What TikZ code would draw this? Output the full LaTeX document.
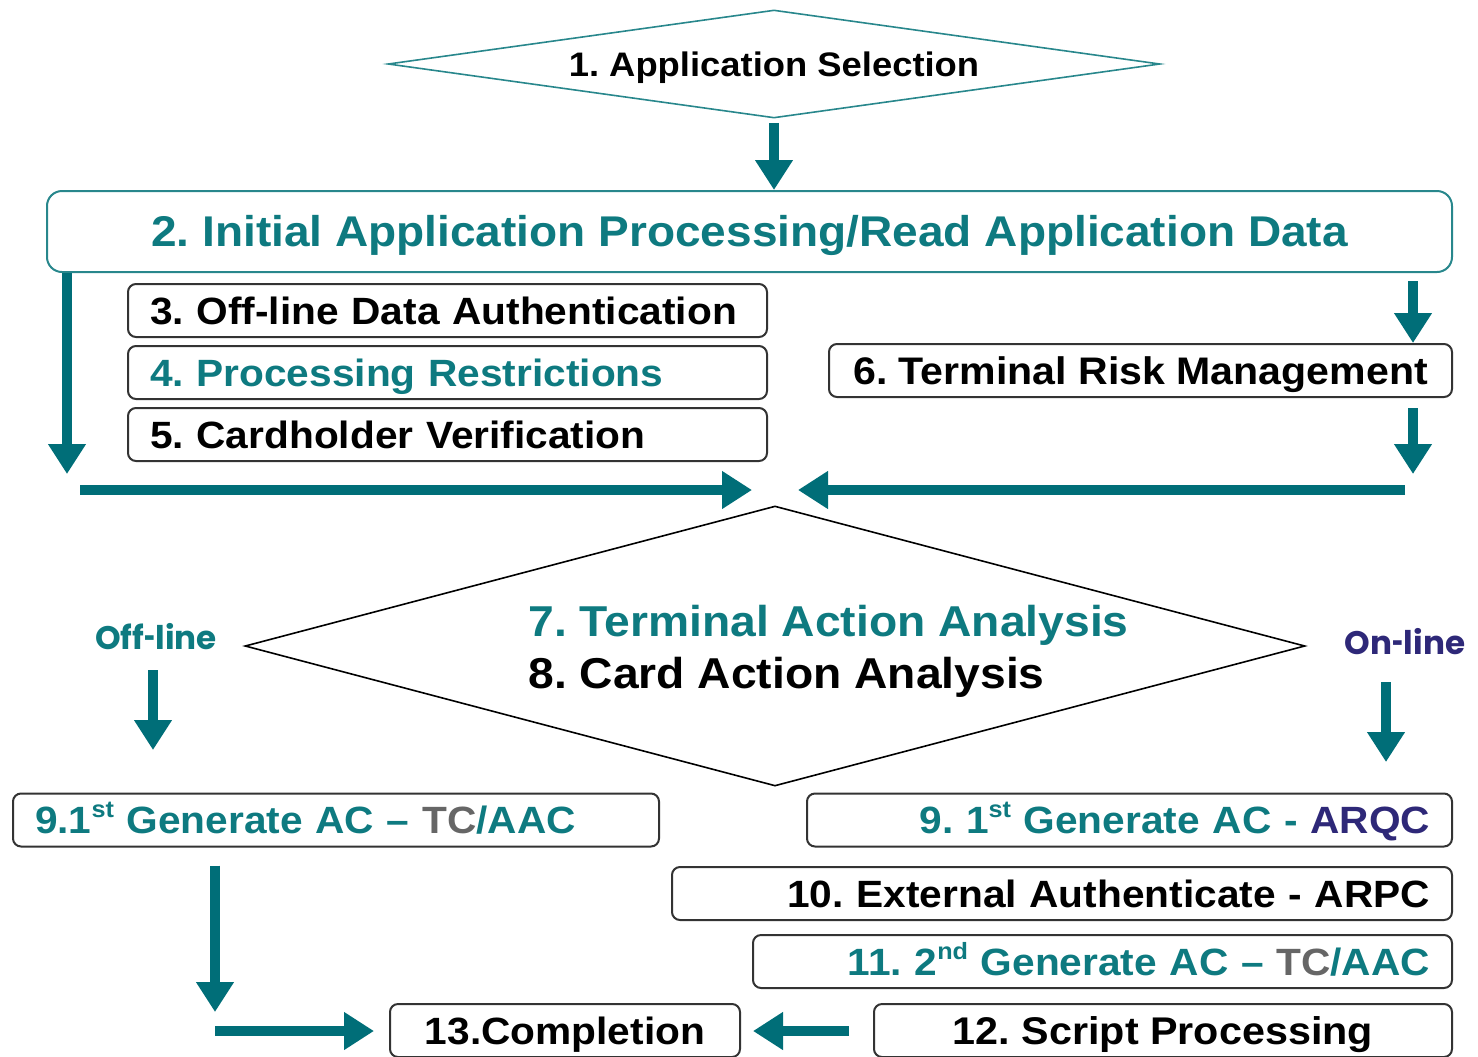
\documentclass[tikz,border=0pt]{standalone}
\usepackage{fontspec}
\setmainfont[FakeStretch=1.07]{Liberation Sans}
\newfontfamily\popfont{Poppins}
\usetikzlibrary{arrows.meta,shapes.geometric}
\definecolor{arrteal}{RGB}{0,110,120}
\definecolor{txteal}{RGB}{14,122,128}
\definecolor{navyblue}{RGB}{46,40,120}
\definecolor{tcgray}{RGB}{102,102,102}
\definecolor{bordteal}{RGB}{40,135,140}
\newcommand\supx[1]{\raisebox{0.42em}{\scalebox{0.62}{#1}}}
\newcommand\shorthyph{\scalebox{0.6}[1]{-}}
\frenchspacing
\begin{document}
\begin{tikzpicture}[x=0.5pt,y=-0.5pt,
  flow/.style={draw=arrteal, line width=5pt, -{Triangle[width=18pt,length=15pt]}},
  box/.style={draw=black!80, line width=1pt, rounded corners=4pt, minimum height=26.5pt,
    inner ysep=0pt, font=\bfseries\fontsize{19pt}{22pt}\selectfont, text height=13.6pt, text depth=0pt},
  lbox/.style={box, inner xsep=11pt, align=left},
  rbox/.style={box, inner xsep=11pt, align=right},
  cbox/.style={box, inner xsep=0pt, align=center},
  sidelabel/.style={font=\popfont\bfseries\fontsize{16.3pt}{18pt}\selectfont, inner sep=0pt},
  bigtext/.style={font=\bfseries\fontsize{21.6pt}{26pt}\selectfont, inner sep=0pt, anchor=base west}
]
\useasboundingbox (0,0) rectangle (1478,1056);
\clip (0,0) rectangle (1478,1056);

% 1
\node[diamond, shape aspect=7.15, minimum width=386pt, minimum height=54pt, inner sep=0pt,
  draw=bordteal, line width=0.8pt, font=\bfseries\fontsize{17pt}{20pt}\selectfont,
  text height=12.2pt, text depth=0pt] (d1) at (774,64) {1. Application Selection};
% 2
\node[draw=bordteal, line width=1pt, rounded corners=7.5pt, minimum width=702.5pt, minimum height=40.5pt,
  inner sep=0pt, text=txteal, font=\bfseries\fontsize{21.5pt}{26pt}\selectfont, text height=15.4pt, text depth=0pt]
  (b2) at (749.5,231.5) {2. Initial Application Processing/Read Application Data};
% 3-5
\node[lbox, text width=297.5pt] (b3) at (447.5,310.5) {3. Off-line Data Authentication};
\node[lbox, text width=297.5pt, text=txteal] (b4) at (447.5,372.5) {4. Processing Restrictions};
\node[lbox, text width=297.5pt] (b5) at (447.5,434.5) {5. Cardholder Verification};
% 6
\node[cbox, minimum width=311.5pt, font=\bfseries\fontsize{19.2pt}{22pt}\selectfont] (b6) at (1140.5,370.5) {6. Terminal Risk Management};
% 7/8
\node[diamond, shape aspect=3.79, minimum width=530pt, minimum height=140pt, inner sep=0pt,
  draw=black, line width=0.8pt] (taa) at (775,646) {};
\node[bigtext, text=txteal] (t7) at (528,636) {7. Terminal Action Analysis};
\node[bigtext] (t8) at (528,688) {8. Card Action Analysis};
\node[sidelabel, text=txteal] (offl) at (156,637) {Off\shorthyph line};
\node[sidelabel, text=navyblue] (onl) at (1405,642) {On\shorthyph line};
% 9-13
\node[lbox, text width=301pt, text=txteal] (b9l) at (336,820)
  {9.1\supx{st} Generate AC – {\color{tcgray}TC}/AAC};
\node[rbox, text width=300.5pt, text=txteal] (b9r) at (1129.5,820)
  {9. 1\supx{st} Generate AC - {\color{navyblue}ARQC}};
\node[rbox, text width=368pt] (b10) at (1062,893.5) {10. External Authenticate - ARPC};
\node[rbox, text width=327.5pt, text=txteal] (b11) at (1102.5,961.5)
  {11. 2\supx{nd} Generate AC – {\color{tcgray}TC}/AAC};
\node[cbox, minimum width=289pt, font=\bfseries\fontsize{19.3pt}{22pt}\selectfont] (b12) at (1163,1030.5) {12. Script Processing};
\node[cbox, minimum width=175pt] (b13) at (565,1030.5) {13.Completion};

% coordinates
\coordinate (lx) at (67,474);
\coordinate (rx) at (1413,474);
\coordinate (h1s) at (80,490);
\coordinate (h1e) at (752,490);
\coordinate (h2s) at (1405,490);
\coordinate (h2e) at (798,490);
\coordinate (offs) at (153,670);
\coordinate (offe) at (153,750);
\coordinate (ons) at (1386,682);
\coordinate (one) at (1386,762);
\coordinate (dx) at (215,1012);
\coordinate (rs) at (215,1031);

% arrows
\draw[flow, shorten <=2pt] (d1.south) -- (d1.south |- b2.north);
\draw[flow] (b2.south -| lx) -- (lx);
\draw[flow, shorten <=4pt] (b2.south -| rx) -- (b6.north -| rx);
\draw[flow, shorten <=5pt] (b6.south -| rx) -- (rx);
\draw[flow] (h1s) -- (h1e);
\draw[flow] (h2s) -- (h2e);
\draw[flow] (offs) -- (offe);
\draw[flow] (ons) -- (one);
\draw[flow, shorten <=9pt] (b9l.south -| dx) -- (dx);
\draw[flow, shorten >=7.5pt] (rs) -- (b13.west |- rs);
\draw[flow, shorten <=12pt, shorten >=6pt] (b12.west |- rs) -- (b13.east |- rs);
\end{tikzpicture}
\end{document}
